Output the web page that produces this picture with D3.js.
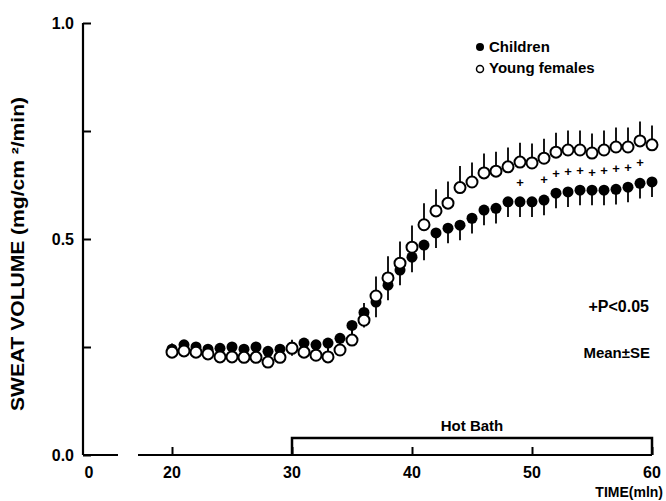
<!DOCTYPE html>
<html>
<head>
<meta charset="utf-8">
<script src="https://cdn.jsdelivr.net/npm/d3@7"></script>
<style>
  body { margin: 0; background: #fff; }
  text { font-family: "Liberation Sans", Arial, sans-serif; font-weight: bold; fill: #000; }
</style>
</head>
<body>
<svg id="main" width="666" height="501"></svg>
<script>
// data
var time = [20,21,22,23,24,25,26,27,28,29,30,31,32,33,34,35,36,37,38,39,40,
            41,42,43,44,45,46,47,48,49,50,51,52,53,54,55,56,57,58,59,60];

var youngFemales = [0.238,0.241,0.238,0.234,0.227,0.227,0.226,0.226,0.215,0.226,0.247,
                    0.238,0.231,0.227,0.243,0.266,0.312,0.368,0.410,0.444,0.481,
                    0.533,0.565,0.583,0.619,0.632,0.653,0.657,0.667,0.678,0.676,
                    0.687,0.701,0.706,0.706,0.699,0.706,0.713,0.713,0.727,0.718];
var youngFemalesSE = [0.02,0.02,0.02,0.02,0.02,0.02,0.02,0.02,0.02,0.02,0.02,
                      0.02,0.02,0.02,0.02,0.03,0.04,0.045,0.05,0.05,0.05,
                      0.05,0.05,0.05,0.05,0.045,0.045,0.045,0.045,0.045,0.045,
                      0.045,0.045,0.045,0.045,0.045,0.045,0.045,0.045,0.045,0.045];

var children = [0.245,0.255,0.250,0.245,0.247,0.250,0.245,0.250,0.240,0.245,0.250,
                0.259,0.255,0.259,0.270,0.300,0.330,0.354,0.393,0.428,0.458,
                0.486,0.514,0.525,0.532,0.548,0.567,0.571,0.586,0.586,0.586,
                0.590,0.606,0.609,0.613,0.613,0.613,0.615,0.620,0.629,0.632];
var childrenSE = [0.02,0.02,0.02,0.02,0.02,0.02,0.02,0.02,0.02,0.02,0.02,
                  0.02,0.02,0.02,0.02,0.03,0.035,0.035,0.035,0.035,0.035,
                  0.035,0.035,0.035,0.035,0.035,0.035,0.035,0.035,0.035,0.035,
                  0.035,0.035,0.035,0.035,0.035,0.035,0.035,0.035,0.035,0.035];

var significant = [49,51,52,53,54,55,56,57,58,59];

var yTicks = [0, 0.25, 0.5, 0.75, 1.0];
var yTickLabels = {"0": "0.0", "0.5": "0.5", "1": "1.0"};
var xTicks = [20, 30, 40, 50, 60];
var hotBath = [30, 60];

var svg = d3.select("svg#main");

var axisX = 83, baseY = 455;
var x = d3.scaleLinear().domain([20, 60]).range([172, 652]);
var y = d3.scaleLinear().domain([0, 1]).range([baseY, 23]);

// y axis
var yAxis = d3.axisRight(y).tickValues(yTicks).tickSize(8).tickFormat("");
var gy = svg.append("g").attr("transform", "translate(" + axisX + ",0)").call(yAxis);
gy.select(".domain").attr("d", "M0," + y(1) + "V" + baseY).attr("stroke-width", 2.2);
gy.selectAll(".tick line").attr("stroke-width", 2);

svg.selectAll("text.ylab")
  .data(yTicks.filter(function(d) { return yTickLabels[String(d)]; }))
  .enter().append("text")
  .attr("class", "ylab")
  .attr("x", axisX - 9)
  .attr("y", function(d) { return y(d) + 6; })
  .attr("text-anchor", "end")
  .style("font-size", "16px")
  .text(function(d) { return yTickLabels[String(d)]; });

svg.append("text")
  .attr("transform", "translate(24,254) rotate(-90)")
  .attr("text-anchor", "middle")
  .attr("textLength", 314)
  .attr("lengthAdjust", "spacingAndGlyphs")
  .style("font-size", "18px")
  .text("SWEAT VOLUME (mg/cm \u00b2/min)");

// x axis, broken between 0 and 20
svg.append("line").attr("x1", axisX).attr("x2", 118).attr("y1", baseY).attr("y2", baseY)
  .attr("stroke", "#000").attr("stroke-width", 2.2);
var xAxis = d3.axisTop(x).tickValues(xTicks).tickSize(8).tickFormat("");
var gx = svg.append("g").attr("transform", "translate(0," + baseY + ")").call(xAxis);
gx.select(".domain").attr("d", "M138,0H" + x(60)).attr("stroke-width", 2.2);
gx.selectAll(".tick line").attr("stroke-width", 2);

svg.selectAll("text.xlab")
  .data(xTicks)
  .enter().append("text")
  .attr("class", "xlab")
  .attr("x", function(d) { return x(d); })
  .attr("y", 478)
  .attr("text-anchor", "middle")
  .style("font-size", "16px")
  .text(function(d) { return d; });
svg.append("text").attr("x", axisX + 6).attr("y", 478).attr("text-anchor", "middle")
  .style("font-size", "16px").text("0");
svg.append("text").attr("x", 663).attr("y", 497).attr("text-anchor", "end")
  .style("font-size", "14px").text("TIME(mln)");

// hot bath bar
var hbY = 438;
svg.append("path")
  .attr("d", "M" + x(hotBath[0]) + "," + baseY + "V" + hbY + "H" + x(hotBath[1]) + "V" + baseY)
  .attr("fill", "none").attr("stroke", "#000").attr("stroke-width", 2.5);
svg.append("text").attr("x", x(45)).attr("y", hbY - 7).attr("text-anchor", "middle")
  .style("font-size", "15px").text("Hot Bath");

// error bars + points
var r = 5.5;
var ch = time.map(function(t, i) { return {t: t, v: children[i], se: childrenSE[i]}; });
var yf = time.map(function(t, i) { return {t: t, v: youngFemales[i], se: youngFemalesSE[i]}; });

svg.append("g").selectAll("line").data(ch).enter().append("line")
  .attr("x1", function(d) { return x(d.t); }).attr("x2", function(d) { return x(d.t); })
  .attr("y1", function(d) { return y(d.v); }).attr("y2", function(d) { return y(d.v - d.se); })
  .attr("stroke", "#000").attr("stroke-width", 1.8);
svg.append("g").selectAll("circle").data(ch).enter().append("circle")
  .attr("cx", function(d) { return x(d.t); }).attr("cy", function(d) { return y(d.v); })
  .attr("r", r).attr("fill", "#000");

svg.append("g").selectAll("line").data(yf).enter().append("line")
  .attr("x1", function(d) { return x(d.t); }).attr("x2", function(d) { return x(d.t); })
  .attr("y1", function(d) { return y(d.v); }).attr("y2", function(d) { return y(d.v + d.se); })
  .attr("stroke", "#000").attr("stroke-width", 1.8);
svg.append("g").selectAll("circle").data(yf).enter().append("circle")
  .attr("cx", function(d) { return x(d.t); }).attr("cy", function(d) { return y(d.v); })
  .attr("r", r).attr("fill", "#fff").attr("stroke", "#000").attr("stroke-width", 2);

// significance marks
svg.append("g").selectAll("text").data(significant).enter().append("text")
  .attr("x", function(d) { return x(d); })
  .attr("y", function(d) {
    var i = time.indexOf(d);
    return y((children[i] + youngFemales[i]) / 2) + 5;
  })
  .attr("text-anchor", "middle")
  .style("font-size", "13px")
  .text("+");

// legend
svg.append("circle").attr("cx", 480).attr("cy", 47).attr("r", 4).attr("fill", "#000");
svg.append("text").attr("x", 489).attr("y", 52).style("font-size", "15px").text("Children");
svg.append("circle").attr("cx", 480).attr("cy", 69).attr("r", 3.5)
  .attr("fill", "#fff").attr("stroke", "#000").attr("stroke-width", 1.5);
svg.append("text").attr("x", 489).attr("y", 73).style("font-size", "15px").text("Young females");

// notes
svg.append("text").attr("x", 649).attr("y", 312).attr("text-anchor", "end")
  .style("font-size", "16px").text("+P<0.05");
svg.append("text").attr("x", 650).attr("y", 358).attr("text-anchor", "end")
  .style("font-size", "15px").text("Mean\u00b1SE");
</script>
</body>
</html>
